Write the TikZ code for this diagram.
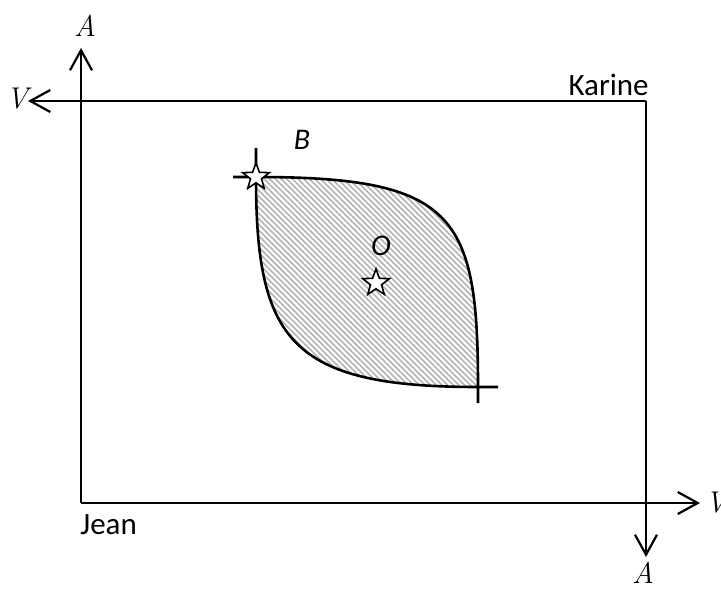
\documentclass[tikz,border=0pt]{standalone}
\usepackage{fontspec}
\newfontfamily\calibri{Carlito}
\usepackage{tikz}
\usetikzlibrary{arrows.meta,shapes.geometric,patterns.meta}

\begin{document}
\begin{tikzpicture}[
    x=0.5pt, y=-0.5pt,
    axis/.style={-{Straight Barb[length=10pt, width=11pt]}, line width=1.1pt},
    curve/.style={line width=1.3pt},
    hatch/.style={pattern={Lines[angle=-45, distance=2pt, line width=0.8pt]}, pattern color=gray!60},
    starmark/.style={star, star points=5, star point ratio=2.4, draw, line width=0.8pt, fill=white, minimum size=14pt, inner sep=0pt},
    axislabel/.style={font=\itshape\fontsize{15}{18}\selectfont, inner sep=0pt},
    person/.style={font=\calibri\fontsize{15.5}{18}\selectfont, inner sep=0pt},
    letter/.style={font=\calibri\itshape\fontsize{15}{18}\selectfont, inner sep=0pt}
]
\useasboundingbox (0,0) rectangle (721,588);

% origins of the two agents
\coordinate (jean) at (81,503);
\coordinate (karine) at (646,101);
\coordinate (jA) at (81,48);
\coordinate (jV) at (700,503);
\coordinate (kV) at (28,101);
\coordinate (kA) at (646,557);

\draw[axis] (jean) -- (jA);
\draw[axis] (jean) -- (jV);
\draw[axis] (karine) -- (kV);
\draw[axis] (karine) -- (kA);

\node[axislabel] (labjA) at (85,26) {A};
\node[axislabel, anchor=west] (labjV) at (705,503) {V};
\node[axislabel] (labkV) at (17,99) {V};
\node[axislabel] (labkA) at (643,573) {A};

\node[person, anchor=base west] (jeanname) at (80,534) {Jean};
\node[person, anchor=base east] (karinename) at (649,96) {Karine};

% lens between the two indifference curves
\coordinate (B) at (256,177);
\coordinate (C) at (478,387);
\fill[hatch] (B) .. controls (455,177) and (478,215) .. (C)
             .. controls (290,387) and (256,340) .. (B);
\draw[curve] (256,148) -- (B) .. controls (256,340) and (290,387) .. (C) -- (498,387);
\draw[curve] (233,177) -- (B) .. controls (455,177) and (478,215) .. (C) -- (478,403);

\node[starmark] (starB) at (B) {};
\node[starmark] (starO) at (376,283) {};
\node[letter] (labB) at (302,140) {B};
\node[letter] (labO) at (381,246) {O};
\end{tikzpicture}
\end{document}
